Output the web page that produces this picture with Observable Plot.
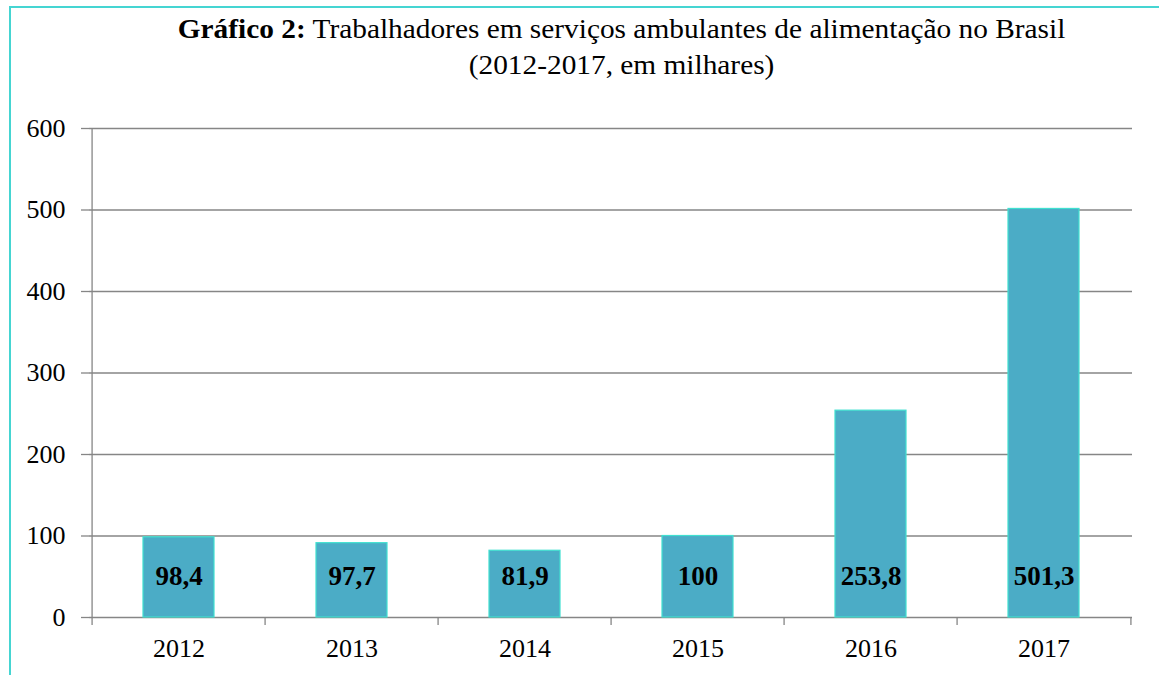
<!DOCTYPE html>
<html><head><meta charset="utf-8">
<script src="https://cdn.jsdelivr.net/npm/d3@7"></script>
<script src="https://cdn.jsdelivr.net/npm/@observablehq/plot@0.6"></script>
<style>
body{margin:0;background:#fff;overflow:hidden}
#wrap{position:relative;width:1159px;height:675px;font-family:"Liberation Serif","Times New Roman",serif;color:#000}
#frame{position:absolute;left:9px;top:6px;width:1300px;height:800px;border:2px solid #45D5D2;box-sizing:border-box;pointer-events:none}
#title{position:relative;height:100px;box-sizing:border-box;padding-top:11px;margin-left:84px;width:1075px;text-align:center;font-size:27px;line-height:36px;transform:scaleX(1.087);transform-origin:537px 0}
#chart svg{display:block}
</style></head>
<body>
<div id="wrap">
<div id="frame"></div>
<div id="title"><b>Gráfico 2:</b> Trabalhadores em serviços ambulantes de alimentação no Brasil<br>(2012-2017, em milhares)</div>
<div id="chart"></div>
</div>
<script>
const years = ["2012","2013","2014","2015","2016","2017"];
const barValues = [98.4, 91.2, 81.9, 100, 253.8, 501.3];
const valueLabels = ["98,4","97,7","81,9","100","253,8","501,3"];
const yTicks = [0,100,200,300,400,500,600];

const data = years.map((year,i)=>({year, value: barValues[i], label: valueLabels[i]}));
const W = 1159, H = 575, mL = 89, mR = 27;
const step = (W - mL - mR) / years.length;
const gray = "#868686";

const chart = Plot.plot({
  width: W, height: H,
  marginTop: 28, marginBottom: 58, marginLeft: mL, marginRight: mR,
  style: {fontFamily: '"Liberation Serif","Times New Roman",serif', fontSize: "26px", color: "#000", background: "transparent"},
  x: {domain: years, paddingInner: 0.59, paddingOuter: 0.295, label: null},
  y: {domain: [0, 600], label: null},
  marks: [
    Plot.gridY(yTicks, {stroke: gray, strokeOpacity: 1, strokeWidth: 1.3}),
    Plot.axisY(yTicks, {tickSize: 8, tickPadding: 16, stroke: gray, strokeWidth: 1.3, fontSize: 26, tickFormat: d => String(d), label: null}),
    Plot.axisX({tickSize: 0, tickPadding: 21, fontSize: 26, label: null}),
    Plot.ruleX([years[0]], {dx: -step/2, y1: 600, y2: 0, insetBottom: -8, stroke: gray, strokeWidth: 1.3}),
    Plot.ruleX(years.slice(1), {dx: -step/2, y1: 0, y2: 0, insetBottom: -8, stroke: gray, strokeWidth: 1.3}),
    Plot.ruleX([years[years.length-1]], {dx: step/2, y1: 0, y2: 0, insetBottom: -8, stroke: gray, strokeWidth: 1.3}),
    Plot.barY(data, {x: "year", y: "value", fill: "#4BACC6", stroke: "#40E0D0", strokeWidth: 1.2}),
    Plot.text(data, {x: "year", y: 0, text: "label", dy: -41, fontWeight: "bold", fontSize: 27, fill: "#000"})
  ]
});
document.getElementById("chart").appendChild(chart);
</script>
</body></html>
